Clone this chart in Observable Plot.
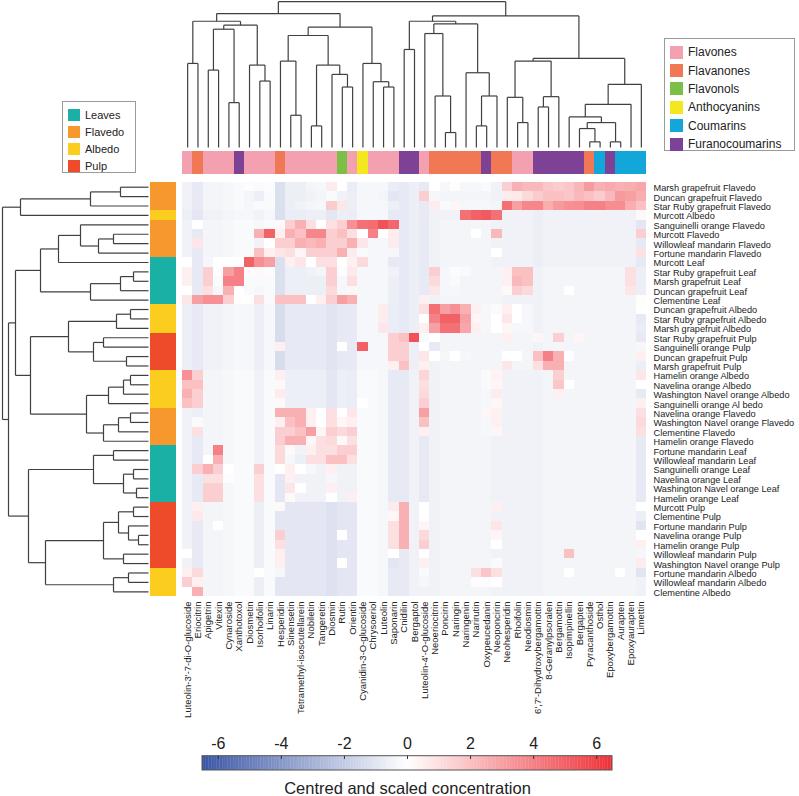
<!DOCTYPE html>
<html><head><meta charset="utf-8">
<script src="https://cdn.jsdelivr.net/npm/d3@7"></script>
<script src="https://cdn.jsdelivr.net/npm/@observablehq/plot@0.6"></script>
<style>
body{margin:0;background:#fff;font-family:"Liberation Sans",Arial,sans-serif;}
#wrap{position:relative;width:799px;height:796px;overflow:hidden;background:#fff;}
#wrap svg{position:absolute;}
.legend{position:absolute;border:1px solid #9a9a9a;background:#fff;color:#222;box-sizing:border-box;}
.legend .it{display:flex;align-items:center;white-space:nowrap;}
.legend .sw{display:inline-block;flex:none;}
</style></head><body><div id="wrap"></div>
<script>
// ---------- data ----------
const compounds = ["Luteolin-3'-7-di-O-glucoside","Eriocitrin","Apigetrin","Vitexin","Cynaroside","Xanthotoxol","Diosmetin","Isorhoifolin","Linarin","Hesperidin","Sinensetin","Tetramethyl-isoscutellarein","Nobiletin","Tangeretin","Diosmin","Rutin","Orientin","Cyanidin-3-O-glucoside","Chrysoeriol","Luteolin","Saponarin","Cnidilin","Bergaptol","Luteolin-4'-O-glucoside","Neoeriocitrin","Poncirin","Naringin","Naringenin","Narirutin","Oxypeucedanin","Neoponcirin","Neohesperidin","Rhoifolin","Neodiosmin","6',7'-Dihydroxybergamottin","8-Geranylpsoralen","Bergamottin","Isopimpinellin","Bergapten","Pyracanthoside","Osthol","Epoxybergamottin","Aurapten","Epoxyaurapten","Limettin"];
const compoundClass = ["Flavones","Flavanones","Flavones","Flavones","Flavones","Furanocoumarins","Flavones","Flavones","Flavones","Flavanones","Flavones","Flavones","Flavones","Flavones","Flavones","Flavonols","Flavones","Anthocyanins","Flavones","Flavones","Flavones","Furanocoumarins","Furanocoumarins","Flavones","Flavanones","Flavanones","Flavanones","Flavanones","Flavanones","Furanocoumarins","Flavanones","Flavanones","Flavones","Flavones","Furanocoumarins","Furanocoumarins","Furanocoumarins","Furanocoumarins","Furanocoumarins","Flavanones","Coumarins","Furanocoumarins","Coumarins","Coumarins","Coumarins"];
const samples = ["Marsh grapefruit Flavedo","Duncan grapefruit Flavedo","Star Ruby grapefruit Flavedo","Murcott Albedo","Sanguinelli orange Flavedo","Murcott Flavedo","Willowleaf mandarin Flavedo","Fortune mandarin Flavedo","Murcott Leaf","Star Ruby grapefruit Leaf","Marsh grapefruit Leaf","Duncan grapefruit Leaf","Clementine Leaf","Duncan grapefruit Albedo","Star Ruby grapefruit Albedo","Marsh grapefruit Albedo","Star Ruby grapefruit Pulp","Sanguinelli orange Pulp","Duncan grapefruit Pulp","Marsh grapefruit Pulp","Hamelin orange Albedo","Navelina orange Albedo","Washington Navel orange Albedo","Sanguinelli orange Al bedo","Navelina orange Flavedo","Washington Navel orange Flavedo","Clementine Flavedo","Hamelin orange Flavedo","Fortune mandarin Leaf","Willowleaf mandarin Leaf","Sanguinelli orange Leaf","Navelina orange Leaf","Washington Navel orange Leaf","Hamelin orange Leaf","Murcott Pulp","Clementine Pulp","Fortune mandarin Pulp","Navelina orange Pulp","Hamelin orange Pulp","Willowleaf mandarin Pulp","Washington Navel orange Pulp","Fortune mandarin Albedo","Willowleaf mandarin Albedo","Clementine Albedo"];
const sampleTissue = ["Flavedo","Flavedo","Flavedo","Albedo","Flavedo","Flavedo","Flavedo","Flavedo","Leaves","Leaves","Leaves","Leaves","Leaves","Albedo","Albedo","Albedo","Pulp","Pulp","Pulp","Pulp","Albedo","Albedo","Albedo","Albedo","Flavedo","Flavedo","Flavedo","Flavedo","Leaves","Leaves","Leaves","Leaves","Leaves","Leaves","Pulp","Pulp","Pulp","Pulp","Pulp","Pulp","Pulp","Albedo","Albedo","Albedo"];
const tissues = ["Leaves","Flavedo","Albedo","Pulp"];
const tissueColors = ["#1bb0a6","#f7982f","#fbcd1f","#ee4b2b"];
const classes = ["Flavones","Flavanones","Flavonols","Anthocyanins","Coumarins","Furanocoumarins"];
const classColors = ["#f3a1b0","#f07855","#7cbf47","#f4e61f","#13a6d8","#7d4196"];

// centred and scaled concentration, one row per sample (same order as samples), one value per compound
const values = [
[-0.5,-0.8,-0.4,-0.4,-0.3,-0.2,-0.1,-0.2,-0.1,-1.2,-0.6,-0.6,-0.4,-0.3,0.6,0.0,-0.7,-0.3,-0.3,-0.3,-0.7,-0.8,-0.6,-0.8,0.0,-0.3,0.1,-0.3,-0.3,-0.2,-0.5,1.5,2.5,2.2,2.2,1.8,1.6,1.8,2.3,3.2,2.5,2.7,2.5,2.6,2.8],
[-0.5,-0.8,-0.4,-0.4,-0.3,-0.2,-0.4,-0.6,-0.2,-1.2,-0.6,-0.6,-0.5,-0.4,-0.2,-0.5,-0.6,-0.3,-0.3,-0.4,-0.9,-0.8,-0.6,1.5,-0.3,-0.4,-0.4,-0.4,-0.4,-0.4,-0.5,0.6,0.7,1.2,1.6,2.0,2.0,1.8,2.2,2.0,1.6,2.2,3.2,3.0,2.6],
[-0.5,-0.8,-0.4,-0.4,-0.3,-0.2,-0.3,-0.2,-0.2,-1.2,-0.6,-0.5,-0.4,-0.3,1.6,0.8,-0.6,-0.3,-0.3,-0.3,-0.6,-0.8,-0.6,-0.8,0.6,-0.2,0.3,-0.3,-0.3,-0.3,-0.4,4.5,3.0,3.8,3.8,2.6,3.2,3.5,3.6,4.0,4.0,3.6,3.6,2.6,2.0],
[-0.6,-0.9,-0.5,-0.5,-0.4,-0.3,-0.3,-0.5,-0.3,-1.2,-0.7,-0.7,-0.6,-0.6,-0.9,-0.6,-0.7,-0.3,-0.3,-0.3,-0.8,-0.8,-0.6,-0.8,-0.5,-0.5,-0.5,4.5,5.0,5.2,4.5,-0.5,-0.5,-0.5,-0.6,-0.5,-0.5,-0.5,-0.5,-0.5,-0.5,-0.5,-0.5,-0.5,0.2],
[-0.5,0.0,-0.4,-0.4,-0.3,-0.2,-0.2,-0.3,-0.2,0.2,1.5,2.5,1.0,0.0,1.0,1.5,3.5,4.5,4.6,5.5,4.8,-0.8,-0.6,-0.8,-0.5,-0.4,-0.4,-0.4,-0.4,-0.4,-0.5,-0.5,-0.5,-0.5,-0.6,-0.5,-0.5,-0.5,-0.5,-0.5,-0.5,-0.5,-0.5,-0.5,-0.9],
[-0.5,-0.8,-0.4,-0.4,-0.3,-0.2,-0.2,2.5,5.0,0.5,2.5,2.0,3.8,3.8,1.5,2.0,1.0,0.0,4.0,0.0,0.6,-0.8,-0.6,-0.8,-0.5,-0.4,-0.4,-0.4,0.0,-0.4,2.2,-0.5,-0.5,-0.5,-0.6,-0.5,-0.5,-0.5,-0.5,-0.5,-0.5,-0.5,-0.5,-0.5,1.5],
[-0.5,0.8,-0.4,-0.4,-0.3,-0.2,-0.2,-0.5,0.0,1.5,1.5,2.5,2.2,2.5,1.5,1.5,2.5,0.8,-0.3,-0.3,0.6,-0.8,-0.6,-0.8,-0.5,-0.4,-0.4,-0.4,-0.4,-0.4,-0.5,-0.5,-0.5,-0.5,-0.6,-0.5,-0.5,-0.5,-0.5,-0.5,-0.5,-0.5,-0.5,-0.5,-0.8],
[-0.5,-0.8,-0.4,-0.4,-0.3,-0.2,-0.2,2.0,0.5,0.8,1.0,0.3,1.5,1.5,1.5,2.5,0.6,-0.2,-0.3,-0.3,-0.3,-0.8,-0.6,-0.8,-0.5,-0.4,-0.4,-0.4,-0.4,-0.4,0.0,-0.5,-0.5,-0.5,-0.6,-0.5,-0.5,-0.5,-0.5,-0.5,-0.5,-0.5,-0.5,-0.5,0.9],
[0.0,-0.8,-0.3,0.0,0.0,0.0,5.0,3.5,3.0,-1.2,0.5,0.8,0.0,1.0,1.0,0.0,0.5,1.2,-0.3,-0.3,-0.8,-0.8,-0.6,-0.8,-0.5,-0.4,-0.4,-0.4,-0.4,-0.4,-0.5,-0.5,-0.5,-0.5,-0.6,-0.5,-0.5,-0.5,-0.5,-0.5,-0.5,-0.5,-0.5,-0.5,-0.8],
[0.5,-0.8,1.5,-0.1,3.0,4.0,-0.1,0.2,-0.1,-1.2,-0.6,-0.6,-0.5,-0.4,1.5,-0.1,0.7,-0.3,-0.3,-0.3,-0.5,-0.8,-0.6,-0.8,1.5,-0.3,-0.1,-0.2,-0.4,-0.4,-0.4,0.5,2.0,2.0,-0.5,-0.4,-0.4,-0.4,-0.4,-0.4,-0.4,-0.4,-0.4,1.0,-0.6],
[0.5,-0.8,1.5,-0.2,4.0,4.0,-0.2,-0.2,-0.2,-1.2,-0.6,-0.6,-0.6,-0.6,1.5,-0.3,1.0,-0.3,-0.3,-0.3,-0.6,-0.8,-0.6,-0.8,1.2,-0.3,-0.2,-0.4,-0.4,-0.4,-0.4,0.5,2.2,2.0,-0.5,-0.4,-0.4,-0.4,-0.4,-0.4,-0.4,-0.4,-0.4,1.0,-0.6],
[0.0,-0.8,1.0,-0.3,2.5,0.0,-0.2,-0.3,-0.2,-1.2,-0.6,-0.6,-0.6,-0.6,1.2,-0.3,0.3,-0.3,-0.3,-0.3,-0.6,-0.8,-0.6,-0.8,0.8,-0.3,-0.3,-0.4,-0.4,-0.4,-0.4,0.2,1.5,1.2,-0.5,-0.4,-0.4,0.0,-0.4,-0.4,-0.4,-0.4,-0.4,0.8,-0.6],
[0.8,3.0,3.5,3.5,1.5,0.0,0.0,1.0,-0.2,2.0,2.0,2.0,0.0,0.5,1.5,3.0,2.5,-0.3,-0.3,-0.3,-0.6,-0.8,-0.6,0.5,-0.5,-0.4,-0.4,-0.4,-0.4,-0.4,-0.4,-0.5,-0.5,-0.5,-0.5,-0.4,-0.4,-0.4,-0.4,-0.4,-0.4,-0.4,-0.4,-0.4,0.1],
[-0.6,-0.8,-0.5,-0.5,-0.4,-0.3,-0.3,-0.6,-0.3,-1.3,-0.8,-0.8,-0.8,-0.8,-1.0,-0.8,-0.8,-0.3,-0.3,0.6,-0.7,-0.8,-0.6,1.0,4.5,3.0,3.5,2.5,0.5,-0.3,-0.2,0.5,0.0,-0.3,-0.5,-0.4,-0.4,-0.4,-0.4,-0.4,-0.4,-0.4,-0.4,-0.4,0.0],
[-0.6,-0.8,-0.5,-0.5,-0.4,-0.3,-0.3,-0.6,-0.3,-1.3,-0.8,-0.8,-0.8,-0.8,-1.0,-0.8,-0.8,-0.3,-0.3,0.6,-0.7,-0.8,-0.6,0.0,4.0,5.0,5.0,3.0,0.3,-0.3,0.0,0.8,0.0,-0.3,-0.5,-0.4,-0.4,-0.4,-0.4,-0.4,-0.4,-0.4,-0.4,-0.4,-0.8],
[-0.6,-0.8,-0.5,-0.5,-0.4,-0.3,-0.3,-0.6,-0.3,-1.3,-0.8,-0.8,-0.8,-0.8,-1.0,-0.8,-0.8,-0.3,-0.3,0.8,-0.7,-0.8,-0.6,0.5,3.0,4.5,4.5,2.8,0.5,-0.3,0.0,0.3,-0.3,-0.3,-0.5,-0.4,-0.4,-0.4,-0.4,-0.4,-0.4,-0.4,-0.4,-0.4,-0.7],
[-0.6,-0.8,-0.5,-0.5,-0.4,-0.3,-0.3,-0.6,-0.3,-1.3,-0.8,-0.8,-0.8,-0.8,-1.0,-0.8,-0.8,-0.3,-0.3,-0.3,1.5,2.0,5.5,-0.2,0.0,-0.4,-0.4,-0.4,-0.4,-0.4,-0.4,0.5,-0.4,-0.4,0.3,-0.4,1.5,-0.4,0.3,-0.4,-0.4,-0.4,-0.4,-0.4,-0.8],
[-0.6,-0.8,-0.5,-0.5,-0.4,-0.3,-0.3,-0.6,-0.3,0.5,-0.8,-0.8,-0.8,-0.8,-1.0,0.0,-0.8,5.0,-0.3,-0.3,1.5,1.5,-0.6,0.0,-0.8,-0.4,-0.4,-0.4,-0.4,-0.4,-0.4,-0.4,-0.4,-0.4,-0.5,-0.4,-0.4,-0.4,-0.4,-0.4,-0.4,-0.4,-0.4,-0.4,-0.3],
[-0.6,-0.8,-0.5,-0.5,-0.4,-0.3,-0.3,-0.6,-0.3,-1.3,-0.8,-0.8,-0.8,-0.8,-1.0,-0.8,-0.8,-0.3,-0.3,-0.3,1.5,1.5,-0.6,0.8,0.0,-0.3,0.0,-0.3,-0.4,-0.4,-0.4,0.0,0.0,-0.4,2.0,4.0,2.5,0.0,-0.4,-0.4,-0.4,-0.4,-0.4,-0.4,0.5],
[-0.6,-0.8,-0.5,-0.5,-0.4,-0.3,-0.3,-0.6,-0.3,-1.3,-0.8,-0.8,-0.8,-0.8,-1.0,-0.8,-0.8,-0.3,-0.3,-0.3,0.5,2.0,-0.6,0.5,-0.5,-0.4,-0.4,-0.4,-0.4,-0.4,-0.4,0.8,-0.4,-0.4,1.0,2.5,2.5,-0.4,-0.4,-0.4,-0.4,-0.4,-0.4,-0.4,-0.6],
[3.5,1.5,-0.4,-0.4,-0.3,-0.2,-0.2,-0.5,-0.2,0.5,-0.6,-0.6,-0.6,-0.6,-0.9,-0.6,-0.7,-0.2,-0.2,-0.3,-0.8,-0.8,-0.5,1.3,-0.5,-0.4,-0.4,-0.4,-0.4,-0.2,0.4,-0.5,-0.5,-0.5,-0.5,-0.4,1.5,-0.4,-0.4,-0.4,-0.4,-0.4,-0.4,-0.4,0.8],
[2.0,2.0,-0.4,-0.4,-0.3,-0.2,-0.2,-0.5,-0.2,0.2,-0.6,-0.6,-0.6,-0.6,-0.9,-0.6,-0.7,-0.2,-0.2,-0.3,-0.8,-0.8,-0.5,1.0,-0.5,-0.4,-0.4,-0.4,-0.4,-0.2,0.3,-0.5,-0.5,-0.5,-0.5,-0.4,1.8,0.0,-0.4,-0.4,-0.4,-0.4,-0.4,-0.4,0.0],
[2.5,1.5,-0.4,-0.4,-0.3,-0.2,-0.2,-0.5,-0.2,0.6,-0.6,-0.6,-0.6,-0.6,-0.9,-0.6,-0.7,-0.2,-0.2,-0.3,-0.8,-0.8,-0.5,1.2,-0.5,-0.4,-0.4,-0.4,-0.4,-0.3,0.6,-0.5,-0.5,-0.5,-0.5,-0.4,0.5,-0.4,-0.4,-0.4,-0.4,-0.4,-0.4,-0.4,-0.8],
[2.0,1.5,-0.4,-0.4,-0.3,-0.2,-0.2,-0.5,-0.2,0.2,-0.6,-0.6,-0.6,-0.6,-0.9,-0.6,-0.7,0.0,-0.2,-0.3,-0.8,-0.8,-0.5,1.5,-0.5,-0.4,-0.4,-0.4,-0.4,-0.3,0.3,-0.5,-0.5,-0.5,-0.5,-0.4,-0.4,-0.4,-0.4,-0.4,-0.4,-0.4,-0.4,-0.4,0.5],
[-0.5,-0.6,-0.4,-0.4,-0.3,-0.2,-0.2,-0.5,-0.2,2.5,2.5,2.5,0.5,0.0,1.0,0.0,0.8,-0.2,-0.2,-0.3,-0.8,-0.8,-0.5,3.0,-0.5,-0.4,-0.4,-0.4,-0.4,0.3,0.5,-0.5,-0.5,-0.5,-0.5,-0.4,-0.4,-0.4,-0.4,-0.4,-0.4,-0.4,-0.4,-0.4,1.0],
[-0.5,-0.2,-0.4,-0.4,-0.3,-0.2,-0.2,-0.5,-0.2,0.5,2.0,2.5,0.5,0.0,1.0,0.3,0.5,-0.2,-0.2,-0.3,-0.8,-0.8,-0.5,2.0,-0.5,-0.4,-0.4,-0.4,-0.4,-0.3,0.5,-0.5,-0.5,-0.5,-0.5,-0.4,-0.4,-0.4,-0.4,-0.4,-0.4,-0.4,-0.4,-0.4,1.2],
[-0.5,1.0,-0.4,-0.4,-0.3,-0.2,-0.2,-0.5,-0.2,1.5,1.5,2.0,3.0,0.3,1.5,1.2,1.5,-0.2,-0.2,-0.3,-0.8,-0.8,-0.5,0.5,-0.5,-0.4,-0.4,-0.4,-0.4,-0.3,0.3,-0.5,-0.5,-0.5,-0.5,-0.4,-0.4,-0.4,-0.4,-0.4,-0.4,-0.4,-0.4,-0.4,1.0],
[-0.5,-0.8,-0.4,-0.4,-0.3,-0.2,-0.2,-0.5,-0.2,1.5,2.5,2.5,0.3,1.0,1.2,0.2,1.0,-0.2,-0.2,-0.3,-0.8,-0.8,-0.5,-0.8,-0.5,-0.4,-0.4,-0.4,-0.4,-0.4,-0.5,-0.5,-0.5,-0.5,-0.5,-0.4,-0.4,-0.4,-0.4,-0.4,-0.4,-0.4,-0.4,-0.4,-0.8],
[-0.5,-0.8,-0.4,4.0,-0.3,-0.2,-0.2,-0.5,-0.2,1.2,0.2,-0.5,0.5,1.0,1.0,1.5,1.5,-0.2,-0.2,-0.3,-0.8,-0.8,-0.5,-0.8,-0.5,-0.4,-0.4,-0.4,-0.4,-0.4,-0.5,-0.5,-0.5,-0.5,-0.5,-0.4,-0.4,-0.4,-0.4,-0.4,-0.4,-0.4,-0.4,-0.4,-0.8],
[-0.5,-0.8,0.0,2.5,-0.3,-0.2,-0.2,-0.5,-0.2,1.2,-0.3,-0.6,1.0,1.0,2.0,2.0,1.0,-0.2,-0.2,-0.3,-0.8,-0.8,-0.5,-0.8,-0.5,-0.4,-0.4,-0.4,-0.4,-0.4,-0.5,-0.5,-0.5,-0.5,-0.5,-0.4,-0.4,-0.4,-0.4,-0.4,-0.4,-0.4,-0.4,-0.4,-0.8],
[-0.5,1.5,2.5,1.5,0.0,-0.2,-0.2,1.5,-0.2,0.0,0.5,0.0,-0.3,-0.5,0.5,-0.5,-0.5,-0.2,-0.2,-0.3,-0.8,-0.8,-0.5,-0.8,-0.5,-0.4,-0.4,-0.4,-0.4,-0.4,-0.5,-0.5,-0.5,-0.5,-0.5,-0.4,-0.4,-0.4,-0.4,-0.4,-0.4,-0.4,-0.4,-0.4,-0.8],
[-0.5,-0.8,1.0,1.0,-0.1,-0.2,-0.2,1.0,-0.2,-0.9,0.5,-0.5,-0.5,-0.5,-0.3,-0.5,-0.5,-0.2,-0.2,-0.3,-0.8,-0.8,-0.5,-0.8,-0.5,-0.4,-0.4,-0.4,-0.4,-0.4,-0.5,-0.5,-0.5,-0.5,-0.5,-0.4,-0.4,-0.4,-0.4,-0.4,-0.4,-0.4,-0.4,-0.4,-0.8],
[-0.5,-0.8,1.5,1.5,-0.3,-0.2,-0.2,1.0,-0.2,-0.9,0.8,0.0,-0.5,-0.5,0.5,-0.5,-0.5,-0.2,-0.2,-0.3,-0.8,-0.8,-0.5,-0.8,-0.5,-0.4,-0.4,-0.4,-0.4,-0.4,-0.5,-0.5,-0.5,-0.5,-0.5,-0.4,-0.4,-0.4,-0.4,-0.4,-0.4,-0.4,-0.4,-0.4,-0.8],
[-0.5,-0.8,1.5,1.5,-0.3,-0.2,-0.2,1.0,-0.2,-0.9,0.2,-0.5,-0.5,-0.5,0.0,-0.5,0.5,-0.2,-0.2,-0.3,-0.8,-0.8,-0.5,-0.8,-0.5,-0.4,-0.4,-0.4,-0.4,-0.4,-0.5,-0.5,-0.5,-0.5,-0.5,-0.4,-0.4,-0.4,-0.4,-0.4,-0.4,-0.4,-0.4,-0.4,-0.8],
[-0.5,0.5,-0.4,-0.4,-0.3,-0.2,-0.2,-0.6,-0.2,0.2,-0.9,-0.9,-0.9,-0.9,-1.1,-0.9,-0.9,-0.2,-0.2,-0.3,0.6,2.5,-0.5,0.0,-0.5,-0.4,-0.4,-0.4,-0.4,-0.4,0.5,-0.5,-0.5,-0.5,-0.5,-0.4,-0.4,-0.4,-0.4,-0.4,-0.4,-0.4,-0.4,-0.4,0.0],
[-0.5,0.7,-0.4,-0.4,-0.3,-0.2,-0.2,-0.6,-0.2,-0.9,-0.9,-0.9,-0.9,-0.9,-1.1,-0.9,-0.9,-0.2,-0.2,-0.3,0.3,2.5,-0.5,0.0,-0.5,-0.4,-0.4,-0.4,-0.4,-0.4,-0.5,-0.5,-0.5,-0.5,-0.5,-0.4,-0.4,-0.4,-0.4,-0.4,-0.4,-0.4,-0.4,-0.4,-0.6],
[-0.5,-0.8,-0.4,0.0,-0.3,-0.2,-0.2,-0.6,-0.2,-0.9,-0.9,-0.9,-0.9,-0.9,-1.1,-0.9,-0.9,-0.2,-0.2,-0.3,1.0,2.5,-0.5,0.3,-0.5,-0.4,-0.4,-0.4,-0.4,-0.4,0.8,-0.5,-0.5,-0.5,-0.5,-0.4,-0.4,-0.4,-0.4,-0.4,-0.4,-0.4,-0.4,-0.4,-1.0],
[-0.5,-0.8,-0.4,-0.4,-0.3,-0.2,-0.2,-0.6,-0.2,1.5,-0.9,-0.9,-0.9,-0.9,-1.1,0.0,-0.9,-0.2,-0.2,-0.3,1.0,2.5,-0.5,1.2,-0.5,-0.4,-0.4,-0.4,-0.4,-0.4,0.3,-0.5,-0.5,-0.5,-0.5,-0.4,-0.4,-0.4,-0.4,-0.4,-0.4,-0.4,-0.4,-0.4,0.0],
[-0.5,-0.8,-0.4,-0.4,-0.3,-0.2,-0.2,-0.6,-0.2,1.0,-0.9,-0.9,-0.9,-0.9,-1.1,-0.9,-0.9,-0.2,-0.2,-0.3,1.0,2.5,-0.5,1.5,-0.5,-0.4,-0.4,-0.4,-0.4,-0.4,0.0,-0.5,-0.5,-0.5,-0.5,-0.4,-0.4,-0.4,-0.4,-0.4,-0.4,-0.4,-0.4,-0.4,0.5],
[0.0,-0.8,-0.4,-0.4,-0.3,-0.2,-0.2,-0.6,-0.2,0.5,-0.9,-0.9,-0.9,-0.9,-1.1,-0.9,-0.9,-0.2,-0.2,-0.3,0.0,-0.8,-0.5,0.0,-0.5,-0.4,-0.4,-0.4,-0.4,-0.4,-0.5,-0.5,-0.5,-0.5,-0.5,-0.4,-0.4,2.0,-0.4,-0.4,-0.4,-0.4,-0.4,-0.4,-0.3],
[-0.5,-0.8,-0.4,-0.4,-0.3,-0.2,-0.2,-0.6,-0.2,0.5,-0.9,-0.9,-0.9,-0.9,-1.1,0.0,-0.9,-0.2,-0.2,-0.3,-0.9,-0.8,-0.5,0.5,-0.5,-0.4,-0.4,-0.4,-0.4,-0.4,-0.2,-0.5,-0.5,-0.5,-0.5,-0.4,-0.4,-0.4,-0.4,-0.4,-0.4,-0.4,-0.4,-0.4,0.6],
[0.5,1.2,-0.4,-0.4,-0.3,-0.2,-0.2,0.0,-0.2,-0.3,-0.9,-0.9,-0.9,-0.9,-1.1,-0.9,-0.9,-0.2,-0.2,-0.3,-0.8,-0.8,-0.5,-0.2,-0.5,-0.4,-0.4,-0.4,1.0,1.8,1.0,-0.5,-0.5,-0.5,-0.5,-0.4,-0.4,0.0,-0.4,-0.4,-0.4,-0.4,0.0,-0.4,-1.0],
[1.5,0.5,-0.4,-0.4,-0.3,-0.2,-0.2,-0.6,-0.2,-0.9,-0.9,-0.9,-0.9,-0.9,-1.1,-0.9,-0.9,-0.2,-0.2,-0.3,-0.8,-0.8,-0.5,-0.3,-0.5,-0.4,-0.4,-0.4,-0.1,-0.1,0.0,-0.5,-0.5,-0.5,-0.5,-0.4,-0.4,-0.4,-0.4,-0.4,-0.4,-0.4,-0.4,-0.4,-0.5],
[0.0,2.5,-0.4,-0.4,-0.3,-0.2,-0.2,-0.6,-0.2,-0.9,-0.9,-0.9,-0.9,-0.9,-1.1,-0.9,-0.9,-0.2,-0.2,-0.3,-0.8,-0.8,-0.5,-0.5,-0.5,-0.4,-0.4,-0.4,-0.4,-0.4,-0.5,-0.5,-0.5,-0.5,-0.5,-0.4,-0.4,-0.4,-0.4,-0.4,-0.4,-0.4,-0.4,-0.4,-0.5]
];

// dendrograms: [left, right, mergeHeight]; leaves are column / row indices
const colTree = [
  [[[0,1,253],[[[2,3,233],[4,5,135],356],[6,[7,8,200],248],368],380],
   [[[9,[10,11,97],260],[[12,13,65],[14,[15,16,182],220],248],337],[17,[18,[19,20,182],198],253],362],403],
  [[[21,22,295],[[23,[24,[25,26,45],155],343],[27,[[28,29,65],30,155],225],372],380],
   [[[31,[32,33,75],151],[[34,35,122],36,153],260],[[[37,[[38,[39,40,17],57],[41,42,17],75],92],43,130],44,190],268],396],
  439];
const rowTree = [
  [[[0,1,28],2,58],3,128],
  [
    [[[[4,[[5,6,35],7,50],68],8,90],[[[9,10,15],11,28],12,58],108],
     [[[[13,14,18],15,32],[[16,17,45],[18,19,22],55],80],[[[[20,21,18],22,25],23,40],[[[24,25,18],26,30],27,45],62],118],133],
    [[[28,29,35],[[30,31,15],[32,33,12],25],55],[[[[34,35,15],[36,[37,38,10],20],30],[39,40,25],45],[[41,42,20],43,35],103],120],
  140],
  146];

// ---------- helpers ----------
function dendroSegments(tree) {
  const segs = [];
  function walk(n) {
    if (typeof n === "number") return {p: n + 0.5, h: 0};
    const a = walk(n[0]), b = walk(n[1]), h = n[2];
    segs.push({p1: a.p, h1: a.h, p2: a.p, h2: h});
    segs.push({p1: b.p, h1: b.h, p2: b.p, h2: h});
    segs.push({p1: a.p, h1: h, p2: b.p, h2: h});
    return {p: (a.p + b.p) / 2, h};
  }
  walk(tree);
  return segs;
}
const cells = values.flatMap((row, r) => row.map((v, c) => ({r, c, v})));
const colW = 464 / 45, rowH = 414 / 44;
const X = px => (px - 182) / colW;   // pixel -> column units (layout helper)
const Y = px => (px - 182) / rowH;   // pixel -> row units (layout helper)
const FONT = "'Liberation Sans', Arial, Helvetica, sans-serif";
const colorScale = {type: "linear", domain: [-6.5, 0, 6.5], range: ["#3a55a5", "#ffffff", "#ee3138"], interpolate: "rgb"};
const wrap = document.getElementById("wrap");
function place(el, x0, y0) { el.style.left = x0 + "px"; el.style.top = y0 + "px"; wrap.appendChild(el); }

// ---------- main heatmap ----------
const mainPlot = Plot.plot({
  width: 799, height: 735, margin: 0,
  style: {background: "transparent", overflow: "visible", fontFamily: FONT},
  x: {type: "linear", domain: [0, 45], range: [182, 646], axis: null},
  y: {type: "linear", domain: [0, 44], range: [182, 596], axis: null},
  color: colorScale,
  marks: [
    Plot.rect(cells, {x1: "c", x2: d => d.c + 1, y1: "r", y2: d => d.r + 1, fill: "v", shapeRendering: "crispEdges"}),
    ...classes.map((cls, k) => Plot.rect(compounds.map((d, i) => i).filter(i => compoundClass[i] === cls),
      {x1: i => i, x2: i => i + 1, y1: Y(151), y2: Y(174), fill: classColors[k], shapeRendering: "crispEdges"})),
    ...tissues.map((t, k) => Plot.rect(samples.map((d, i) => i).filter(i => sampleTissue[i] === t),
      {x1: X(150), x2: X(176), y1: i => i, y2: i => i + 1, fill: tissueColors[k], shapeRendering: "crispEdges"})),
    Plot.text(compounds, {x: (d, i) => i + 0.5, y: 44, text: d => d, rotate: -90, textAnchor: "end", dy: 5, fontSize: 9.5, fill: "#222"}),
    Plot.text(samples, {x: 45, y: (d, i) => i + 0.5, text: d => d, textAnchor: "start", dx: 7, dy: 1, fontSize: 9.2, fill: "#222"})
  ]
});
place(mainPlot, 0, 0);

// ---------- column dendrogram ----------
const topPlot = Plot.plot({
  width: 799, height: 150, margin: 0,
  style: {background: "transparent", overflow: "visible"},
  x: {type: "linear", domain: [0, 45], range: [182, 646], axis: null},
  y: {type: "linear", domain: [0, 440], range: [147, 0.8], axis: null},
  marks: [Plot.link(dendroSegments(colTree), {x1: "p1", x2: "p2", y1: "h1", y2: "h2", stroke: "#404040", strokeWidth: 1.2})]
});
place(topPlot, 0, 0);

// ---------- row dendrogram ----------
const leftPlot = Plot.plot({
  width: 152, height: 796, margin: 0,
  style: {background: "transparent", overflow: "visible"},
  x: {type: "linear", domain: [0, 146], range: [148, 2], axis: null},
  y: {type: "linear", domain: [0, 44], range: [182, 596], axis: null},
  marks: [Plot.link(dendroSegments(rowTree), {y1: "p1", y2: "p2", x1: "h1", x2: "h2", stroke: "#404040", strokeWidth: 1.2})]
});
place(leftPlot, 0, 0);

// ---------- colour bar ----------
const ticks = [-6, -4, -2, 0, 2, 4, 6];
const steps = d3.range(-6.5, 6.5, 0.05);
const barPlot = Plot.plot({
  width: 799, height: 61, margin: 0,
  style: {background: "transparent", overflow: "visible", fontFamily: FONT},
  x: {type: "linear", domain: [-6.5, 6.5], range: [202, 612], axis: null},
  y: {type: "linear", domain: [0, 61], range: [0, 61], axis: null},
  color: colorScale,
  marks: [
    Plot.rect(steps, {x1: d => d, x2: d => Math.min(d + 0.06, 6.5), y1: 20.7, y2: 35, fill: d => d + 0.025}),
    Plot.rect([0], {x1: -6.5, x2: 6.5, y1: 20.7, y2: 35, fill: "none", stroke: "#555", strokeWidth: 1}),
    Plot.ruleX(ticks, {x: d => d, y1: 20.7, y2: 24, stroke: "#333", strokeWidth: 1}),
    Plot.text(ticks, {x: d => d, y: 8, text: d => String(d), fontSize: 16, fill: "#222"}),
    Plot.text(["Centred and scaled concentration"], {x: 0, y: 53, text: d => d, fontSize: 16.5, fill: "#222"})
  ]
});
place(barPlot, 0, 735);

// ---------- legends ----------
function legend(names, colors, x0, y0, w, h, font, sw, gap) {
  const box = document.createElement("div");
  box.className = "legend";
  box.style.width = w + "px"; box.style.height = h + "px";
  box.style.padding = "4px 5px"; box.style.fontSize = font + "px";
  names.forEach((n, i) => {
    const it = document.createElement("div"); it.className = "it";
    it.style.height = gap + "px";
    const s = document.createElement("span"); s.className = "sw";
    s.style.width = sw + "px"; s.style.height = sw + "px"; s.style.background = colors[i]; s.style.marginRight = "5px";
    it.appendChild(s); it.appendChild(document.createTextNode(n)); box.appendChild(it);
  });
  place(box, x0, y0);
}
legend(tissues, tissueColors, 62, 101, 74, 72, 11, 12, 17);
legend(classes, classColors, 664, 38, 131, 113, 12, 13, 18.4);
</script></body></html>
